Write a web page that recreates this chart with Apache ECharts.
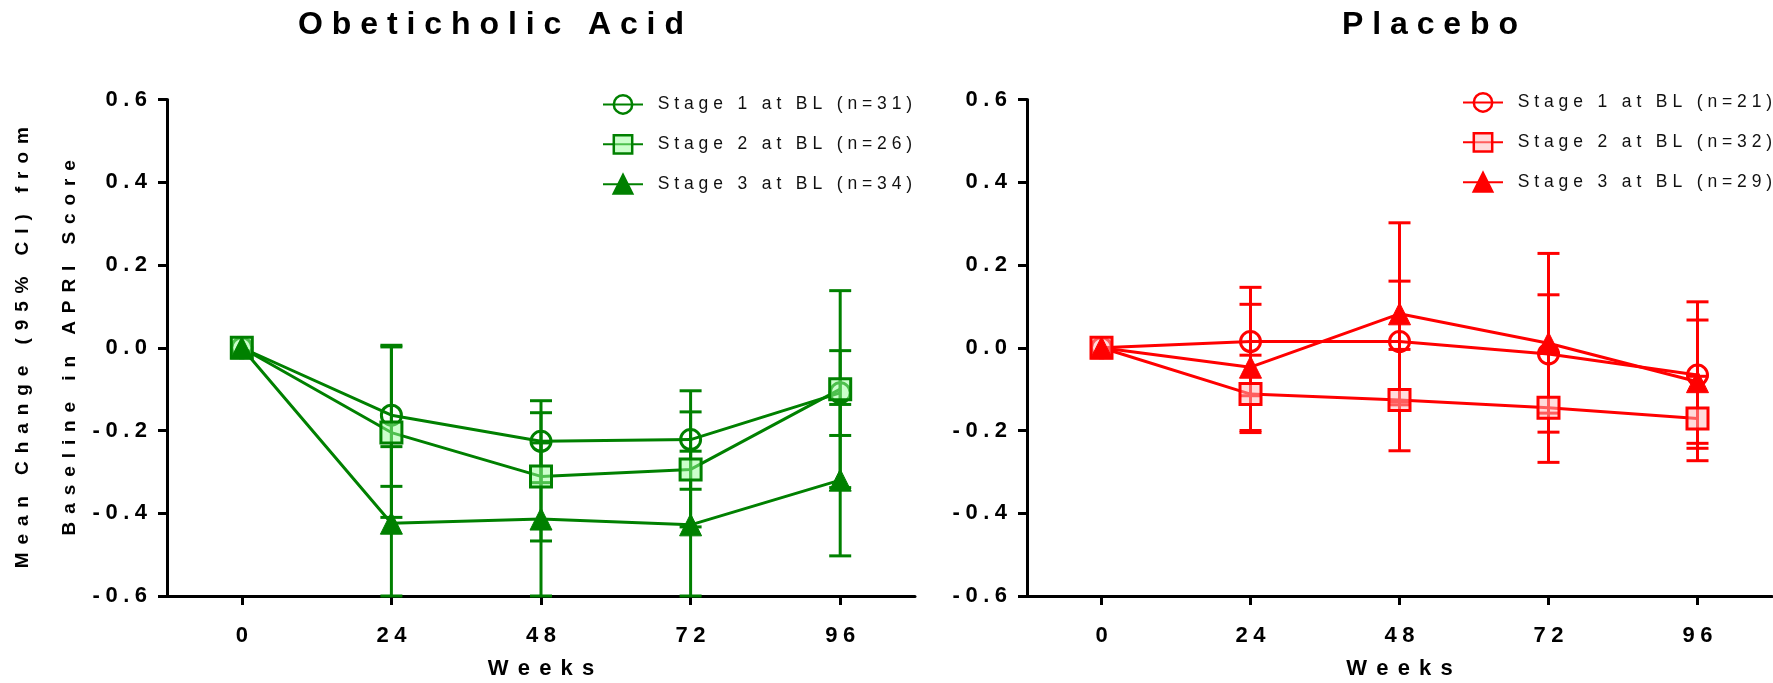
<!DOCTYPE html>
<html>
<head>
<meta charset="utf-8">
<script src="https://cdn.jsdelivr.net/npm/echarts@6/dist/echarts.min.js"></script>
<style>
  html, body { margin: 0; padding: 0; background: #fff; }
  #main { width: 1773px; height: 683px; }
</style>
</head>
<body>
<div id="main"></div>
<script>
  // weeks on study
  var weeks = [0, 24, 48, 72, 96];

  // Obeticholic Acid
  var ocaNames = ['Stage 1 at BL (n=31)', 'Stage 2 at BL (n=26)', 'Stage 3 at BL (n=34)'];
  var ocaStage1 = [0, -0.163, -0.226, -0.222, -0.109];
  var ocaStage1Low = [null, -0.335, -0.326, -0.342, -0.212];
  var ocaStage1High = [null, 0.006, -0.128, -0.104, -0.007];
  var ocaStage2 = [0, -0.205, -0.311, -0.294, -0.100];
  var ocaStage2Low = [null, -0.410, -0.467, -0.433, -0.338];
  var ocaStage2High = [null, 0.002, -0.157, -0.155, 0.138];
  var ocaStage3 = [0, -0.424, -0.414, -0.428, -0.320];
  var ocaStage3Low = [null, -0.609, -0.610, -0.620, -0.503];
  var ocaStage3High = [null, -0.239, -0.230, -0.250, -0.137];

  // Placebo
  var pboNames = ['Stage 1 at BL (n=21)', 'Stage 2 at BL (n=32)', 'Stage 3 at BL (n=29)'];
  var pboStage1 = [0, 0.015, 0.015, -0.015, -0.066];
  var pboStage1Low = [null, -0.116, -0.131, -0.158, -0.243];
  var pboStage1High = [null, 0.146, 0.161, 0.128, 0.111];
  var pboStage2 = [0, -0.112, -0.126, -0.145, -0.171];
  var pboStage2Low = [null, -0.205, -0.249, -0.277, -0.273];
  var pboStage2High = [null, -0.018, -0.004, -0.013, -0.069];
  var pboStage3 = [0, -0.047, 0.082, 0.011, -0.082];
  var pboStage3Low = [null, -0.200, -0.138, -0.204, -0.231];
  var pboStage3High = [null, 0.105, 0.302, 0.228, 0.067];

  var yMin = -0.6, yMax = 0.6;
  var FONT = '"Liberation Sans", Arial, sans-serif';
  var GREEN = '#008000', RED = '#ff0000';

  // wide letter spacing like the original figure
  function spread(s, gap) {
    return s.split('').join(gap || '\u2005\u2006');
  }

  function xAxisFor(idx) {
    return {
      type: 'value', gridIndex: idx, min: -12, max: 108,
      axisLine: { show: true, onZero: false, lineStyle: { color: '#000', width: 3 } },
      axisTick: { show: true, customValues: weeks, length: 9, lineStyle: { color: '#000', width: 3 } },
      axisLabel: {
        customValues: weeks, margin: 29, fontSize: 22, fontWeight: 'bold', color: '#000', fontFamily: FONT,
        formatter: function (v) { return spread(String(v), '\u2005'); }
      },
      splitLine: { show: false },
      name: spread('Weeks'), nameLocation: 'middle', nameGap: 62, nameMoveOverlap: false,
      nameTextStyle: { fontSize: 22, fontWeight: 'bold', color: '#000', fontFamily: FONT }
    };
  }

  function yAxisFor(idx, withName) {
    var ax = {
      type: 'value', gridIndex: idx, min: yMin, max: yMax, interval: 0.2,
      axisLine: { show: true, onZero: false, lineStyle: { color: '#000', width: 3 } },
      axisTick: { show: true, length: 9, lineStyle: { color: '#000', width: 3 } },
      axisLabel: {
        margin: 20, fontSize: 22, fontWeight: 'bold', color: '#000', fontFamily: FONT,
        formatter: function (v) { return spread(v.toFixed(1), '\u2005'); }
      },
      splitLine: { show: false }
    };
    if (withName) {
      ax.name = spread('Mean Change (95% CI) from') + '\n' + spread('Baseline in APRI Score');
      ax.nameLocation = 'middle';
      ax.nameRotate = 90;
      ax.nameGap = 74;
      ax.nameMoveOverlap = false;
      ax.nameTextStyle = { fontSize: 19, fontWeight: 'bold', color: '#000', fontFamily: FONT, lineHeight: 47 };
    }
    return ax;
  }

  function renderErrorBar(params, api) {
    var x = api.value(0);
    var lo = Math.max(api.value(1), yMin);
    var hi = Math.min(api.value(2), yMax);
    var pLo = api.coord([x, lo]);
    var pHi = api.coord([x, hi]);
    var half = 11;
    var st = { stroke: api.visual('color'), lineWidth: 3 };
    return {
      type: 'group',
      children: [
        { type: 'line', shape: { x1: pLo[0], y1: pLo[1], x2: pHi[0], y2: pHi[1] }, style: st },
        { type: 'line', shape: { x1: pHi[0] - half, y1: pHi[1], x2: pHi[0] + half, y2: pHi[1] }, style: st },
        { type: 'line', shape: { x1: pLo[0] - half, y1: pLo[1], x2: pLo[0] + half, y2: pLo[1] }, style: st }
      ]
    };
  }

  function makeSeries(idx, names, means, lows, highs, color, squareFill) {
    var symbols = ['circle', 'rect', 'triangle'];
    var sizes = [20, 21, 22];
    var styles = [
      { color: 'rgba(0,0,0,0)', borderColor: color, borderWidth: 3 },
      { color: squareFill, borderColor: color, borderWidth: 3 },
      { color: color, borderColor: color, borderWidth: 1 }
    ];
    var out = [];
    for (var k = 0; k < 3; k++) {
      var errs = [];
      for (var i = 1; i < weeks.length; i++) {
        errs.push([weeks[i], lows[k][i], highs[k][i]]);
      }
      out.push({
        type: 'custom', name: 'CI ' + names[k], xAxisIndex: idx, yAxisIndex: idx,
        data: errs, renderItem: renderErrorBar, encode: { x: 0, y: [1, 2] },
        itemStyle: { color: color }, z: 2, silent: true
      });
      out.push({
        type: 'line', name: names[k], xAxisIndex: idx, yAxisIndex: idx,
        data: weeks.map(function (w, i) { return [w, means[k][i]]; }),
        symbol: symbols[k], symbolSize: sizes[k], showAllSymbol: true,
        lineStyle: { color: color, width: 3 },
        itemStyle: styles[k], z: 3
      });
    }
    return out;
  }

  function legendFor(left, top, names) {
    return {
      left: left, top: top, orient: 'vertical', padding: 0,
      itemWidth: 40, itemHeight: 23, itemGap: 19,
      data: names, selectedMode: false,
      itemStyle: { borderWidth: 2.5 },
      formatter: function (n) { return '  ' + spread(n, ' '); },
      textStyle: { fontSize: 17.5, color: '#111', fontFamily: FONT }
    };
  }

  var chart = echarts.init(document.getElementById('main'));

  var option = {
    animation: false,
    backgroundColor: '#fff',
    graphic: [
      { type: 'text', x: 491, y: 25, style: { text: spread('Obeticholic Acid', ' '), align: 'center', verticalAlign: 'middle', font: 'bold 32px ' + FONT, fill: '#000' } },
      { type: 'text', x: 1430, y: 25, style: { text: spread('Placebo', ' '), align: 'center', verticalAlign: 'middle', font: 'bold 32px ' + FONT, fill: '#000' } }
    ],
    grid: [
      { left: 167, right: 858, top: 99.5, bottom: 87, outerBoundsMode: 'none' },
      { left: 1027, right: 1, top: 99.5, bottom: 87, outerBoundsMode: 'none' }
    ],
    xAxis: [xAxisFor(0), xAxisFor(1)],
    yAxis: [yAxisFor(0, true), yAxisFor(1, false)],
    legend: [legendFor(602, 94, ocaNames), legendFor(1462, 92, pboNames)],
    series: [].concat(
      makeSeries(0, ocaNames,
        [ocaStage1, ocaStage2, ocaStage3],
        [ocaStage1Low, ocaStage2Low, ocaStage3Low],
        [ocaStage1High, ocaStage2High, ocaStage3High],
        GREEN, 'rgba(153,255,153,0.5)'),
      makeSeries(1, pboNames,
        [pboStage1, pboStage2, pboStage3],
        [pboStage1Low, pboStage2Low, pboStage3Low],
        [pboStage1High, pboStage2High, pboStage3High],
        RED, 'rgba(255,185,185,0.5)')
    )
  };

  chart.setOption(option);
</script>
</body>
</html>
